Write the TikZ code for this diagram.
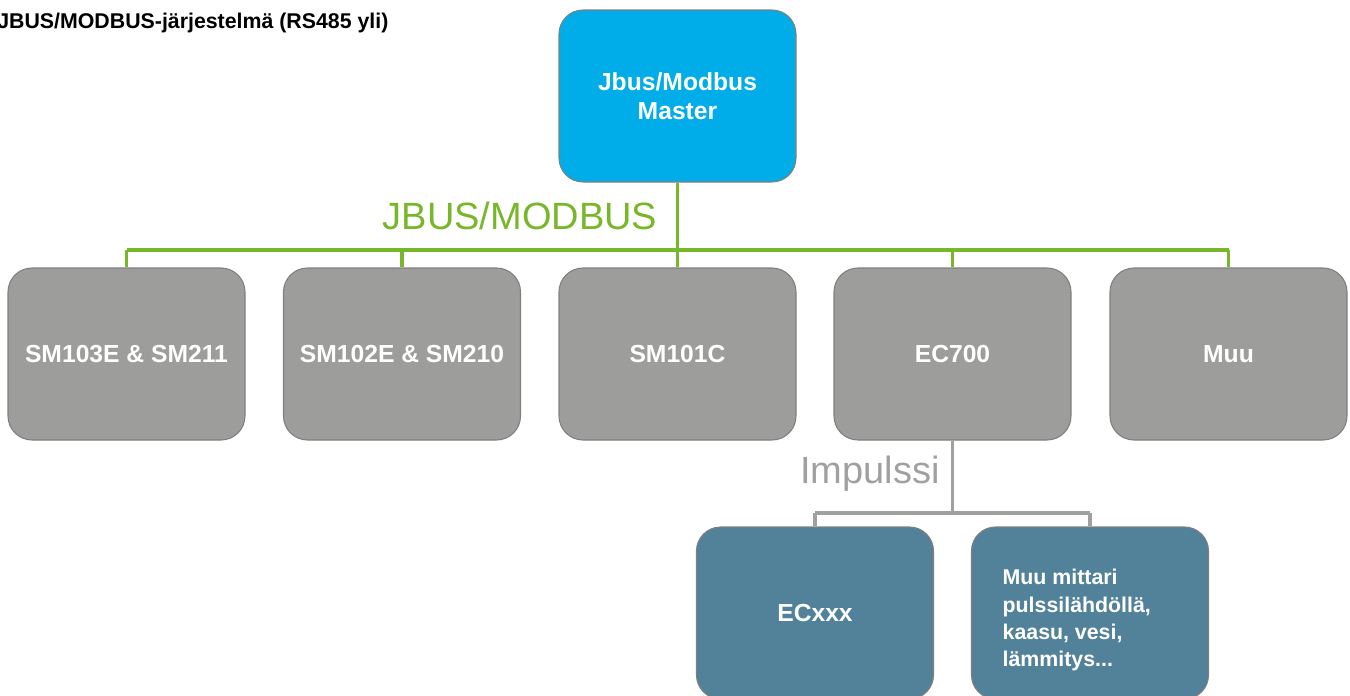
\documentclass[tikz,border=0pt]{standalone}
\usepackage{fontspec}
\setmainfont{Liberation Sans}
\definecolor{masterblue}{HTML}{00ADE8}
\definecolor{boxgray}{HTML}{9D9D9C}
\definecolor{boxedge}{HTML}{7F7F7F}
\definecolor{busgreen}{HTML}{78B72A}
\definecolor{tealbox}{HTML}{52819A}
\definecolor{impgray}{HTML}{A0A0A0}
\begin{document}
\begin{tikzpicture}[x=0.75pt,y=-0.75pt,
  basebox/.style={draw=boxedge,line width=0.8pt,rounded corners=18pt,minimum width=177.75pt,minimum height=129pt,inner sep=0pt,text=white,font=\bfseries\fontsize{18.5}{21.5}\selectfont,align=center},
  masterbox/.style={basebox,fill=masterblue},
  graybox/.style={basebox,fill=boxgray},
  tealnode/.style={basebox,fill=tealbox},
  busline/.style={draw=busgreen,line width=2.4pt},
  impline/.style={draw=impgray,line width=2.4pt}]
\useasboundingbox (0,0) rectangle (1350,696);
\clip (0,0) rectangle (1350,696);
% title
\node[anchor=west,inner sep=0pt,font=\bfseries\fontsize{16}{19}\selectfont] (title) at (-3,23) {JBUS/MODBUS-järjestelmä (RS485 yli)};
% master
\node[masterbox,font=\bfseries\fontsize{18.5}{22}\selectfont] (master) at (677.5,96) {Jbus/Modbus\\Master};
% gray boxes
\node[graybox] (b1) at (126.5,354) {SM103E \& SM211};
\node[graybox] (b2) at (402,354) {SM102E \& SM210};
\node[graybox] (b3) at (677.5,354) {SM101C};
\node[graybox] (b4) at (952.5,354) {EC700};
\node[graybox] (b5) at (1228.5,354) {Muu};
% bottom boxes
\node[tealnode] (c1) at (815,613) {ECxxx};
\node[tealnode,font=\bfseries\fontsize{16}{20.5}\selectfont] (c2) at (1090,613) {\raisebox{-5.5pt}[\height][\depth]{\parbox[c]{131pt}{\raggedright Muu mittari\\pulssilähdöllä,\\kaasu, vesi,\\lämmitys...}}};
% bus
\coordinate (busL) at (b1.north |- 0,250);
\coordinate (busR) at (b5.north |- 0,250);
\draw[busline] (busL) -- (busR);
\draw[busline] (master.south) -- (b3.north);
\draw[busline] (busL) -- (b1.north);
\draw[busline] (b2.north |- busL) -- (b2.north);
\draw[busline] (b4.north |- busL) -- (b4.north);
\draw[busline] (busR) -- (b5.north);
\node[text=busgreen,font=\fontsize{28.5}{32}\selectfont,inner sep=0pt] (buslabel) at (520,216) {JBUS/MODBUS};
% impulse
\coordinate (impM) at (b4.south |- 0,513);
\coordinate (impL) at (c1.north |- 0,513);
\coordinate (impR) at (c2.north |- 0,513);
\draw[impline] (b4.south) -- (impM);
\draw[impline] (impL) -- (impR);
\draw[impline] (impL) -- (c1.north);
\draw[impline] (impR) -- (c2.north);
\node[text=impgray,font=\fontsize{28.5}{32}\selectfont,inner sep=0pt] (implabel) at (870,474) {Impulssi};
\end{tikzpicture}
\end{document}
